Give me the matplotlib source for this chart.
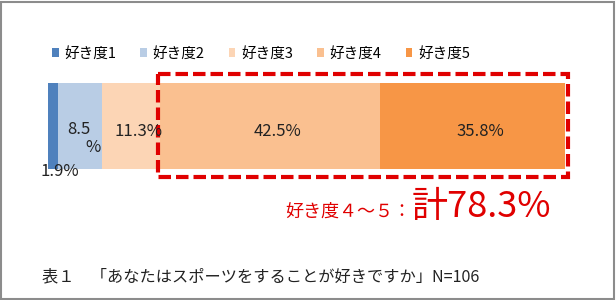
import matplotlib.pyplot as plt
from matplotlib.patches import Rectangle, Patch

plt.rcParams['font.family'] = ['Noto Sans CJK JP', 'DejaVu Sans']

# data
categories = ['好き度1', '好き度2', '好き度3', '好き度4', '好き度5']
values = [1.9, 8.5, 11.3, 42.5, 35.8]
colors = ['#4f81bd', '#b9cde5', '#fcd5b5', '#fac090', '#f79646']
caption = '表１　「あなたはスポーツをすることが好きですか」N=106'
note_small = '好き度４～５：'
note_big = '計78.3%'

W, H = 616, 300
fig = plt.figure(figsize=(W / 100, H / 100), dpi=100)

# axes spans the bar's horizontal extent, full height in pixel units
ax = fig.add_axes([48 / W, 0, 517 / W, 1])
ax.set_xlim(0, 100)
ax.set_ylim(H, 0)
ax.axis('off')

bar_y, bar_h = 126, 86
left = 0
lefts = []
for cat, v, c in zip(categories, values, colors):
    ax.barh(bar_y, v, left=left, height=bar_h, color=c, label=cat)
    lefts.append(left)
    left += v

# data labels
lab_fs = 12
txt = '#222222'
ax.text(lefts[0] + values[0] / 2 + 1.4, 172, '%.1f%%' % values[0], ha='center', va='center',
        fontsize=lab_fs, color=txt)
ax.text(lefts[1] + values[1] / 2 - 0.2, 129, '%.1f' % values[1], ha='center', va='center',
        fontsize=lab_fs, color=txt)
ax.text(lefts[1] + values[1] / 2 + 2.5, 148, '%', ha='center', va='center',
        fontsize=lab_fs, color=txt)
for i in (2, 3, 4):
    ax.text(lefts[i] + values[i] / 2 + 1.5, 131, '%.1f%%' % values[i], ha='center', va='center',
            fontsize=lab_fs, color=txt)

# red dashed box around 4 and 5
red = '#e00000'
x0 = lefts[3] - 0.4
x1 = 100 + 0.6
ax.add_patch(Rectangle((x0, 74), x1 - x0, 103, fill=False, edgecolor=red,
                       linewidth=3, linestyle=(0, (3, 1.2)), clip_on=False))

fig.text(411 / W, 1 - 212 / H, note_small, ha='right', va='center',
         fontsize=13, color=red)
fig.text(412 / W, 1 - 207 / H, note_big, ha='left', va='center',
         fontsize=26, color=red)

# legend
handles = [Patch(facecolor=c, edgecolor='none') for c in colors]
fig.legend(handles, categories, loc='center', bbox_to_anchor=(261 / W, 1 - 54 / H),
           ncol=5, frameon=False, fontsize=10.5, handlelength=0.45, handleheight=0.55,
           handletextpad=0.4, columnspacing=1.65)

# caption
fig.text(42 / W, 1 - 277 / H, caption, ha='left', va='center', fontsize=11.7, color=txt)

# outer border
fig.add_artist(Rectangle((1 / W, 1 / H), (W - 3) / W, (H - 3) / H, transform=fig.transFigure,
                         fill=False, edgecolor='#8c8c8c', linewidth=1.5))

fig.savefig('out.png', dpi=100)
